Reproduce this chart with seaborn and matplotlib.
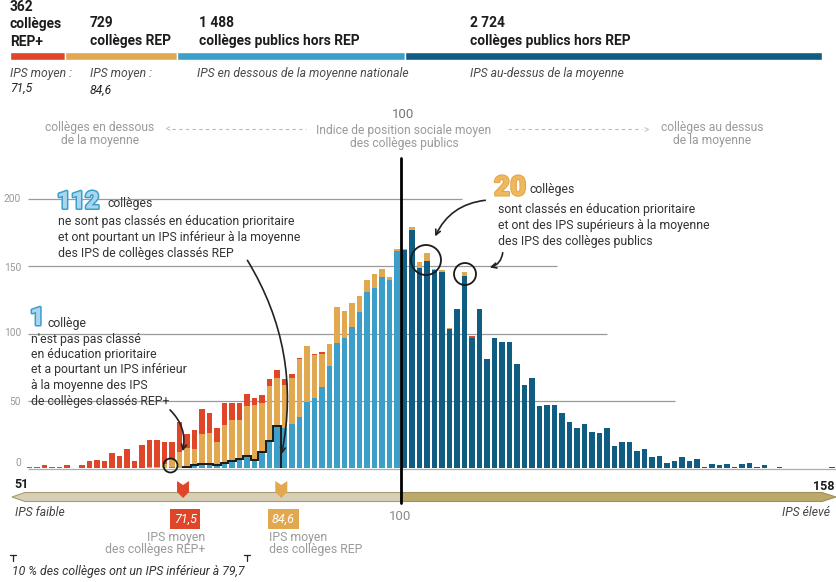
import seaborn as sns
import matplotlib.pyplot as plt
import matplotlib.patheffects as pe
from matplotlib.patches import Polygon, Circle, FancyArrowPatch
import pandas as pd


# bandeau du haut : nombre de collèges par catégorie
effectifs = [362, 729, 1488, 2724]
couleurs = ['#de4529', '#e1a84f', '#3c9fca', '#0f5d82']
moy_rep_plus = 71.5
moy_rep = 84.6

# histogramme : nombre de collèges par point d'IPS (51 à 158)
ips = list(range(51, 159))
rep_plus_debut = 51
rep_plus = [1, 1, 2, 1, 1, 2, 0, 2, 5, 6, 5, 11, 9, 14, 5, 17,
            20, 20, 16, 12, 22, 10, 14, 19, 15, 11, 16, 12, 12, 9, 5, 6, 5, 6, 4, 3,
            1, 0, 1, 1, 0, 0, 0, 0, 0, 0, 0, 0, 0, 0,
            0, 0, 0, 0, 0, 0, 0, 0, 0, 1]
rep_debut = 67
rep = [1, 1, 3, 6, 12, 14, 12, 22, 23, 17, 28, 31, 29, 37, 41, 36, 41, 36, 32, 34,
       43, 42, 32, 25, 16, 27, 20, 18, 12, 9, 10, 6, 2, 2,
       1, 2, 4, 6, 1, 1, 1, 0, 3]
hors_bas_debut = 70
hors_bas = [1, 0, 1, 2, 3, 3, 2, 4, 5, 7, 9, 6, 12, 20, 31, 30, 33,
            38, 49, 52, 60, 76, 93, 97, 105, 116, 131, 134, 142, 140, 161]
hors_haut_debut = 101
hors_haut = [162, 177, 149, 154, 147, 146, 103, 118, 143, 97,
             118, 81, 97, 94, 94, 77, 62, 67, 46, 47,
             47, 41, 34, 30, 33, 27, 26, 30, 16, 19,
             19, 13, 14, 8, 9, 4, 5, 8, 5, 7,
             1, 3, 2, 3, 1, 3, 4, 1, 2, 0,
             1, 0, 0, 0, 0, 0, 0, 1]


def etendre(valeurs, debut):
    serie = [0] * len(ips)
    for k, v in enumerate(valeurs):
        serie[debut - ips[0] + k] = v
    return serie


df = pd.DataFrame({'ips': ips,
                   'rep_plus': etendre(rep_plus, rep_plus_debut),
                   'rep': etendre(rep, rep_debut),
                   'hors_bas': etendre(hors_bas, hors_bas_debut),
                   'hors_haut': etendre(hors_haut, hors_haut_debut)})
df['bleu'] = df.hors_bas + df.hors_haut
df['orange'] = df.bleu + df.rep
df['rouge'] = df.orange + df.rep_plus

sns.set_theme(style='white')
plt.rcParams['font.family'] = ['Roboto', 'DejaVu Sans']

W, H = 836, 582
X0, PAS = 29.3, 7.5      # position en pixels de l'IPS 51, pixels par point d'IPS
Y0, ECH = 468, 1.345     # ligne de base, pixels par collège


def px(v):
    return X0 + PAS * (v - 51)


fig = plt.figure(figsize=(W / 100, H / 100), dpi=100)
ax = fig.add_axes([0, 0, 1, 1])
ov = fig.add_axes([0, 0, 1, 1], zorder=5)
ov.set_xlim(0, W)
ov.set_ylim(H, 0)
ov.axis('off')
ov.patch.set_alpha(0)

# --- histogramme empilé
kw = dict(data=df, x='ips', native_scale=True, width=0.74, saturation=1,
          errorbar=None, linewidth=0, ax=ax)
sns.barplot(y='rouge', color=couleurs[0], **kw)
sns.barplot(y='orange', color=couleurs[1], **kw)
sns.barplot(y='hors_bas', color=couleurs[2], **kw)
sns.barplot(y='hors_haut', color=couleurs[3], **kw)

ax.set_xlim(51 - X0 / PAS, 51 + (W - X0) / PAS)
ax.set_ylim((Y0 - H) / ECH, Y0 / ECH)
ax.axis('off')

x_debut = 51 + (28 - X0) / PAS
for val, fin in zip([50, 100, 150, 200], [675, 607, 557, 462]):
    ax.hlines(val, x_debut, 51 + (fin - X0) / PAS, color='#9a9a9a', lw=0.9, zorder=0.5)
ax.hlines(-0.5, x_debut, 160, color='#b5aaaa', lw=0.9, zorder=0.5)

# contour des 112 collèges hors REP sous la moyenne REP
sel = df[(df.ips > moy_rep_plus) & (df.ips < moy_rep)]
bords = list(sel.ips - 0.5) + [sel.ips.iloc[-1] + 0.5]
ax.stairs(sel.hors_bas, bords, baseline=0, fill=False, color='#1a1a1a', lw=1.4, zorder=3)

for val, y in zip(['200', '150', '100', '50', '0'], [199, 268, 333, 402, 463]):
    ov.text(21, y, val, ha='right', va='center', fontsize=7.3, color='#999999')

# --- bandeau du haut
total = sum(effectifs)
gauche = 10
for n, c in zip(effectifs, couleurs):
    w = n / total * 812
    ov.barh(56, w, left=gauche, height=8, color=c)
    gauche += w

tb = dict(fontsize=9.9, fontweight='bold', color='#1c1c1c', va='center')
ov.text(10, 7, '362', **tb)
ov.text(10, 24, 'collèges', **tb)
ov.text(10, 42, 'REP+', **tb)
ov.text(90, 23, '729', **tb)
ov.text(90, 41, 'collèges REP', **tb)
ov.text(199, 23, '1 488', **tb)
ov.text(199, 41, 'collèges publics hors REP', **tb)
ov.text(470, 23, '2 724', **tb)
ov.text(470, 41, 'collèges publics hors REP', **tb)

ti = dict(fontsize=8.7, style='italic', color='#4a4a4a', va='center')
ov.text(10, 73, 'IPS moyen :', **ti)
ov.text(10, 88, '71,5', fontsize=8.7, style='italic', color='#222222', va='center')
ov.text(90, 73, 'IPS moyen :', **ti)
ov.text(90, 90, '84,6', fontsize=8.7, style='italic', color='#222222', va='center')
ov.text(197, 74, 'IPS en dessous de la moyenne nationale', **ti)
ov.text(470, 74, 'IPS au-dessus de la moyenne', **ti)

# --- repère central
tg = dict(fontsize=8.7, color='#9a9a9a', ha='center', va='center', linespacing=1.0)
ov.text(403, 115, '100', fontsize=9.5, color='#777777', ha='center', va='center')
ov.text(404, 137, 'Indice de position sociale moyen\ndes collèges publics', **tg)
ov.text(100, 134, 'collèges en dessous\nde la moyenne', **tg)
ov.text(712, 134, 'collèges au dessus\nde la moyenne', **tg)
ov.plot([172, 306], [129, 129], color='#b8b8b8', lw=0.8, ls=(0, (3, 3)))
ov.text(168, 129, '<', fontsize=7, color='#b8b8b8', ha='center', va='center')
ov.plot([508, 642], [129, 129], color='#b8b8b8', lw=0.8, ls=(0, (3, 3)))
ov.text(646, 129, '>', fontsize=7, color='#b8b8b8', ha='center', va='center')

x100 = px(100.5)
ov.plot([x100, x100], [158, 503], color='black', lw=2, zorder=6)

# --- axe des IPS
ov.add_patch(Polygon([(12, 497), (25, 492.5), (x100, 492.5), (x100, 501.5), (25, 501.5)],
                     closed=True, fc='#d8d0b6', ec='#a89b72', lw=0.8))
ov.add_patch(Polygon([(x100, 492.5), (822, 492.5), (836, 497), (822, 501.5), (x100, 501.5)],
                     closed=True, fc='#bba96c', ec='#a08f5a', lw=0.8))
ov.text(14, 485, '51', fontsize=9, fontweight='bold', color='#1c1c1c', va='center')
ov.text(835, 486, '158', fontsize=9, fontweight='bold', color='#1c1c1c', va='center', ha='right')
ov.text(15, 513, 'IPS faible', fontsize=8.7, style='italic', color='#444444', va='center')
ov.text(830, 513, 'IPS élevé', fontsize=8.7, style='italic', color='#444444', va='center', ha='right')
ov.text(x100, 517, '100', fontsize=9.5, color='#8a8a8a', ha='center', va='center')

for moy, c in zip([moy_rep_plus, moy_rep], couleurs[:2]):
    cx = px(moy)
    ov.add_patch(Polygon([(cx - 6, 481), (cx, 485), (cx + 6, 481), (cx + 6, 492),
                          (cx, 498), (cx - 6, 492)], closed=True, fc=c, ec='none', zorder=7))
    ov.text(cx + 2, 519, str(moy).replace('.', ','), fontsize=9, color='white', style='italic',
            ha='center', va='center', bbox=dict(boxstyle='square,pad=0.3', fc=c, ec='none'))

tm = dict(fontsize=8.8, color='#9a9a9a', va='center')
ov.text(205, 537, 'IPS moyen', ha='right', **tm)
ov.text(205, 549, 'des collèges REP+', ha='right', **tm)
ov.text(269, 537, 'IPS moyen', ha='left', **tm)
ov.text(269, 549, 'des collèges REP', ha='left', **tm)

for xt in [13, 247]:
    ov.plot([xt - 3, xt + 3], [555, 555], color='#222222', lw=0.9)
    ov.plot([xt, xt], [555, 561], color='#222222', lw=0.9)
ov.text(12, 571, '10 % des collèges ont un IPS inférieur à 79,7', fontsize=8.8,
        style='italic', color='#333333', va='center')

# --- annotations
contour_bleu = [pe.withStroke(linewidth=2.2, foreground='#3c9fca')]
contour_or = [pe.withStroke(linewidth=1.5, foreground='#e0a548')]
ta = dict(fontsize=8.8, color='#333333', va='center')

ov.text(57, 202, '112', fontsize=17.5, fontweight='heavy', color='#a9d6ee',
        va='center', path_effects=contour_bleu)
ov.text(107, 203, 'collèges', **ta)
ov.text(58, 221, 'ne sont pas classés en éducation prioritaire', **ta)
ov.text(58, 237, 'et ont pourtant un IPS inférieur à la moyenne', **ta)
ov.text(58, 253, 'des IPS de collèges classés REP', **ta)

ov.text(30, 318, '1', fontsize=18, fontweight='heavy', color='#a9d6ee',
        va='center', path_effects=contour_bleu)
ov.text(48, 323, 'collège', **ta)
for k, ligne in enumerate(["n'est pas pas classé", 'en éducation prioritaire',
                           'et a pourtant un IPS inférieur', 'à la moyenne des IPS',
                           'de collèges classés REP+']):
    ov.text(31, 339 + 15.5 * k, ligne, **ta)

ov.text(494, 188, '20', fontsize=20, fontweight='heavy', color='#f0b85c',
        va='center', path_effects=contour_or)
ov.text(530, 190, 'collèges', **ta)
ov.text(498, 210, 'sont classés en éducation prioritaire', **ta)
ov.text(498, 226, 'et ont des IPS supérieurs à la moyenne', **ta)
ov.text(498, 241, 'des IPS des collèges publics', **ta)

for (x, y), r in zip([(426, 260), (465, 274), (170.5, 465.5)], [15, 11, 7]):
    ov.add_patch(Circle((x, y), r, fill=False, ec='#1a1a1a', lw=1.3, zorder=7))

fleches = [((246, 258), (281, 457), -0.2),
           ((168, 408), (182, 454), -0.3),
           ((488, 200), (434, 239), 0.3),
           ((503, 250), (487, 268), -0.4)]
for debut, fin, rad in fleches:
    ov.add_patch(FancyArrowPatch(debut, fin, connectionstyle=f'arc3,rad={rad}',
                                 arrowstyle='->', mutation_scale=9, lw=1.2,
                                 color='#222222', zorder=7))

plt.savefig('out.png', dpi=100)
